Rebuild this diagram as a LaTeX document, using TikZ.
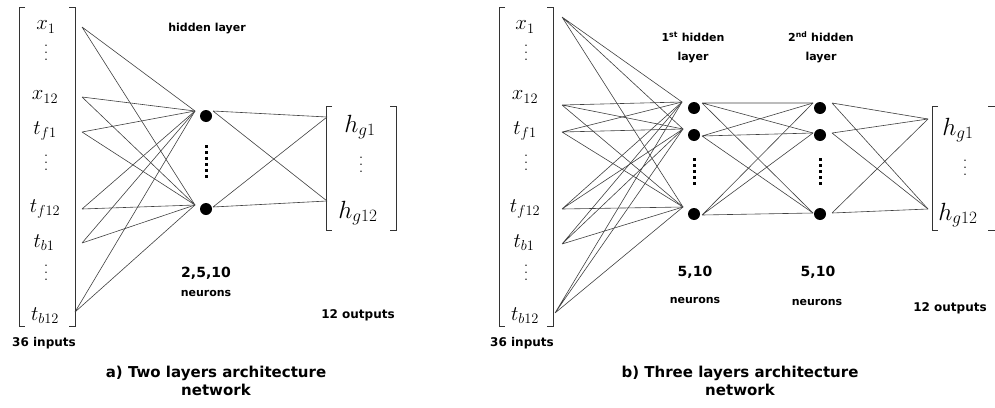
\documentclass[tikz,border=0pt]{standalone}
\usepackage{fontspec}
\setsansfont{DejaVu Sans}
\usetikzlibrary{positioning}
\newcommand{\tallvdots}{\vbox{\baselineskip=7pt \lineskiplimit=0pt \hbox{.}\hbox{.}\hbox{.}}}

\begin{document}
\begin{tikzpicture}[
    x=1pt, y=-1pt,
    neuron/.style={circle, fill=black, inner sep=0pt, minimum size=12pt},
    link/.style={draw=black!75, line width=0.6pt},
    bracketline/.style={draw=black!80, line width=1pt},
    invar/.style={font=\fontsize{22}{24}\selectfont, inner sep=0pt},
    outvar/.style={font=\fontsize{27}{30}\selectfont, inner sep=0pt},
    vdot/.style={font=\fontsize{18}{20}\selectfont, inner sep=0pt},
    neurdots/.style={line width=3pt, dash pattern=on 3pt off 3pt},
    txt/.style={font=\sffamily\bfseries\fontsize{11}{19}\selectfont, align=center, inner sep=0pt},
    caption/.style={font=\sffamily\bfseries\fontsize{15}{18}\selectfont, align=center, inner sep=0pt}
]
\useasboundingbox (0,0) rectangle (995,407);

% ---------- a) Two layers ----------

% Input vector
\draw[bracketline] (25,7) -- (19,7) -- (19,326) -- (25,326);
\draw[bracketline] (69,7) -- (75,7) -- (75,326) -- (69,326);
\node[invar] (xa1) at (46,27) {$x_1$};
\node[vdot] (va1) at (46,53) {\tallvdots};
\node[invar] (xa12) at (45,97) {$x_{12}$};
\node[invar] (tfa1) at (45,131) {$t_{f1}$};
\node[vdot] (va2) at (46,163) {\tallvdots};
\node[invar] (tfa12) at (45,209) {$t_{f12}$};
\node[invar] (tba1) at (44,243) {$t_{b1}$};
\node[vdot] (va3) at (46,273) {\tallvdots};
\node[invar] (tba12) at (45,316) {$t_{b12}$};

\coordinate (ia1) at (82,27);
\coordinate (ia2) at (82,97);
\coordinate (ia3) at (82,132);
\coordinate (ia4) at (82,209);
\coordinate (ia5) at (82,243);
\coordinate (ia6) at (75,312);

% Hidden layer
\node[neuron] (ha1) at (206,116) {};
\node[neuron] (ha2) at (206,209) {};
\draw[neurdots, shorten <=23pt, shorten >=23pt] (ha1) -- (ha2);
\coordinate (ca1) at (195,111);
\coordinate (ca2) at (195,205);
\coordinate (da1) at (213,111);
\coordinate (da2) at (213,207);

% Output vector
\draw[bracketline] (332,106) -- (326,106) -- (326,230) -- (332,230);
\draw[bracketline] (390,106) -- (396,106) -- (396,230) -- (390,230);
\node[outvar] (hga1) at (360,127) {$h_{g1}$};
\node[vdot] (vga) at (361,165) {\tallvdots};
\node[outvar] (hga12) at (358,213) {$h_{g12}$};
\coordinate (oa1) at (327,117);
\coordinate (oa2) at (327,201);

% Connections
\draw[link] (ia1) -- (ca1) (ia1) -- (ca2);
\draw[link] (ia2) -- (ca1) (ia2) -- (ca2);
\draw[link] (ia3) -- (ca1) (ia3) -- (ca2);
\draw[link] (ia4) -- (ca1) (ia4) -- (ca2);
\draw[link] (ia5) -- (ca1) (ia5) -- (ca2);
\draw[link] (ia6) -- (ca1) (ia6) -- (ca2);
\draw[link] (da1) -- (oa1) (da1) -- (oa2);
\draw[link] (da2) -- (oa1) (da2) -- (oa2);

% Labels
\node[txt] (hla) at (207,29) {hidden layer};
\node[txt, font=\sffamily\bfseries\fontsize{14}{16}\selectfont] (nna) at (206,273) {2,5,10};
\node[txt] (nla) at (206,293) {neurons};
\node[txt, font=\sffamily\bfseries\fontsize{12}{14}\selectfont] (ina) at (44,343) {36 inputs};
\node[txt, font=\sffamily\bfseries\fontsize{12}{14}\selectfont] (outa) at (358,315) {12 outputs};
\node[caption] (capa) at (216,381) {a) Two layers architecture\\network};

% ---------- b) Three layers ----------

% Input vector
\draw[bracketline] (505,7) -- (499,7) -- (499,326) -- (505,326);
\draw[bracketline] (547,7) -- (553,7) -- (553,326) -- (547,326);
\node[invar] (xb1) at (525,27) {$x_1$};
\node[vdot] (vb1) at (526,53) {\tallvdots};
\node[invar] (xb12) at (525,97) {$x_{12}$};
\node[invar] (tfb1) at (525,131) {$t_{f1}$};
\node[vdot] (vb2) at (526,163) {\tallvdots};
\node[invar] (tfb12) at (525,209) {$t_{f12}$};
\node[invar] (tbb1) at (524,243) {$t_{b1}$};
\node[vdot] (vb3) at (526,273) {\tallvdots};
\node[invar] (tbb12) at (525,316) {$t_{b12}$};

\coordinate (ib1) at (562,17);
\coordinate (ib2) at (562,105);
\coordinate (ib3) at (562,132);
\coordinate (ib4) at (562,209);
\coordinate (ib5) at (562,244);
\coordinate (ib6) at (555,313);

% 1st hidden layer
\node[neuron] (hb1) at (694,108) {};
\node[neuron] (hb2) at (694,135) {};
\node[neuron] (hb3) at (694,214) {};
\draw[neurdots, shorten <=17pt, shorten >=20pt] (hb2) -- (hb3);
\coordinate (cb1) at (682,102);
\coordinate (cb2) at (683,129);
\coordinate (cb3) at (683,207);
\coordinate (db1) at (702,103);
\coordinate (db2) at (702,136);
\coordinate (db3) at (702,215);

% 2nd hidden layer
\node[neuron] (gb1) at (820,108) {};
\node[neuron] (gb2) at (820,135) {};
\node[neuron] (gb3) at (820,214) {};
\draw[neurdots, shorten <=17pt, shorten >=20pt] (gb2) -- (gb3);
\coordinate (eb1) at (813,103);
\coordinate (eb2) at (813,133);
\coordinate (eb3) at (813,213);
\coordinate (fb1) at (832,103);
\coordinate (fb2) at (832,133);
\coordinate (fb3) at (832,213);

% Output vector
\draw[bracketline] (938,106) -- (932,106) -- (932,230) -- (938,230);
\draw[bracketline] (988,106) -- (996,106) -- (996,230) -- (988,230);
\node[outvar] (hgb1) at (958,130) {$h_{g1}$};
\node[vdot] (vgb) at (965,168) {\tallvdots};
\node[outvar] (hgb12) at (958,215) {$h_{g12}$};
\coordinate (ob1) at (928,119);
\coordinate (ob2) at (928,209);

% Connections
\draw[link] (ib1) -- (cb1) (ib1) -- (cb2) (ib1) -- (cb3);
\draw[link] (ib2) -- (cb1) (ib2) -- (cb2) (ib2) -- (cb3);
\draw[link] (ib3) -- (cb1) (ib3) -- (cb2) (ib3) -- (cb3);
\draw[link] (ib4) -- (cb1) (ib4) -- (cb2) (ib4) -- (cb3);
\draw[link] (ib5) -- (cb1) (ib5) -- (cb2) (ib5) -- (cb3);
\draw[link] (ib6) -- (cb1) (ib6) -- (cb2) (ib6) -- (cb3);
\draw[link] (db1) -- (eb1) (db1) -- (eb2) (db1) -- (eb3);
\draw[link] (db2) -- (eb1) (db2) -- (eb2) (db2) -- (eb3);
\draw[link] (db3) -- (eb1) (db3) -- (eb2) (db3) -- (eb3);
\draw[link] (fb1) -- (ob1) (fb1) -- (ob2);
\draw[link] (fb2) -- (ob1) (fb2) -- (ob2);
\draw[link] (fb3) -- (ob1) (fb3) -- (ob2);

% Labels
\node[txt] (hlb1) at (693,47) {1\textsuperscript{st} hidden\\layer};
\node[txt] (hlb2) at (821,47) {2\textsuperscript{nd} hidden\\layer};
\node[txt, font=\sffamily\bfseries\fontsize{14}{16}\selectfont] (nnb1) at (695,272) {5,10};
\node[txt] (nlb1) at (695,300) {neurons};
\node[txt, font=\sffamily\bfseries\fontsize{14}{16}\selectfont] (nnb2) at (818,272) {5,10};
\node[txt] (nlb2) at (817,302) {neurons};
\node[txt, font=\sffamily\bfseries\fontsize{12}{14}\selectfont] (inb) at (522,343) {36 inputs};
\node[txt, font=\sffamily\bfseries\fontsize{12}{14}\selectfont] (outb) at (950,308) {12 outputs};
\node[caption] (capb) at (740,381) {b) Three layers architecture\\network};

\end{tikzpicture}
\end{document}
